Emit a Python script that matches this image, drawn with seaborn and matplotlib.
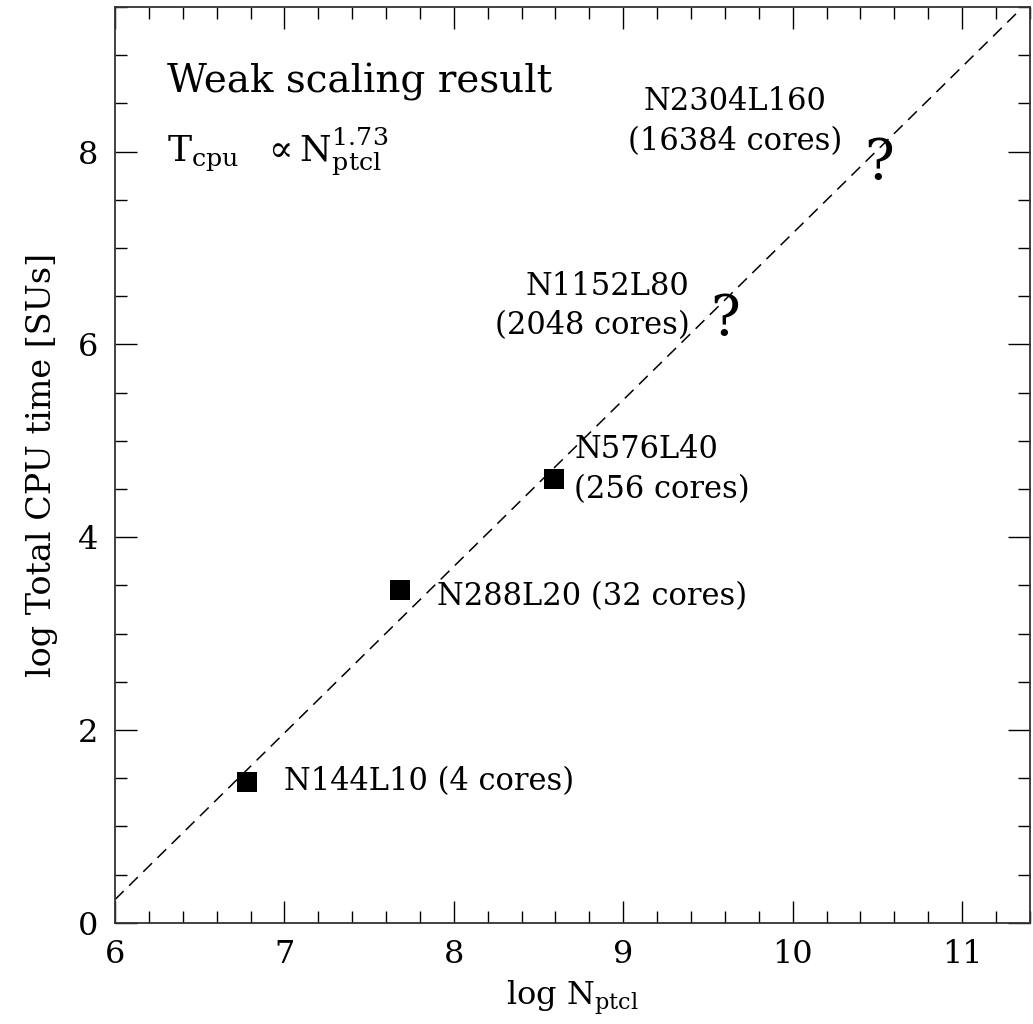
import numpy as np
import pandas as pd
import matplotlib
matplotlib.use("Agg")
import matplotlib.pyplot as plt
import seaborn as sns
from matplotlib.ticker import MultipleLocator

# measured runs
runs = ["N144L10 (4 cores)", "N288L20 (32 cores)", "N576L40\n(256 cores)"]
log_nptcl = [6.78, 7.68, 8.59]
log_cpu = [1.46, 3.45, 4.60]

# fitted power law, T ~ N^1.73 (read at the ends of the dashed line)
fit_x = [6.0, 11.33]
fit_y = [0.24, 9.45]

# projected runs (question marks)
future_runs = ["N1152L80\n(2048 cores)", "N2304L160\n(16384 cores)"]
future_x = [9.60, 10.51]
future_y = [6.26, 7.87]

sns.set_style("ticks")
plt.rcParams["font.family"] = ["DejaVu Serif"]
plt.rcParams["mathtext.fontset"] = "dejavuserif"
plt.rcParams["axes.linewidth"] = 1.3
plt.rcParams["text.color"] = "black"
plt.rcParams["axes.labelcolor"] = "black"
plt.rcParams["axes.edgecolor"] = "#333333"
plt.rcParams["xtick.color"] = "black"
plt.rcParams["ytick.color"] = "black"

fig = plt.figure(figsize=(10.33, 10.24), dpi=100)
ax = fig.add_axes([0.1113, 0.0989, 0.8857, 0.8943])

df = pd.DataFrame({"x": log_nptcl, "y": log_cpu, "run": runs})
fit = pd.DataFrame({"x": fit_x, "y": fit_y})

sns.lineplot(data=fit, x="x", y="y", ax=ax, color="black", linewidth=1.1,
             linestyle=(0, (8, 5)))
sns.scatterplot(data=df, x="x", y="y", ax=ax, marker="s", s=190,
                color="black", linewidth=0, zorder=3)

fs = 22
ax.text(log_nptcl[0] + 0.22, log_cpu[0], runs[0], fontsize=fs, va="center")
ax.text(log_nptcl[1] + 0.22, log_cpu[1] - 0.07, runs[1], fontsize=fs, va="center")
ax.text(log_nptcl[2] + 0.12, log_cpu[2] + 0.1, runs[2], fontsize=fs, va="center",
        linespacing=1.35)

for fx, fy in zip(future_x, future_y):
    ax.text(fx, fy, "?", fontsize=40, ha="center", va="center")

ax.text(9.39, 6.40, future_runs[0], fontsize=fs, ha="right", va="center",
        multialignment="right", linespacing=1.35)
ax.text(9.66, 8.31, future_runs[1], fontsize=fs, ha="center", va="center",
        linespacing=1.35)

ax.text(6.31, 8.72, "Weak scaling result", fontsize=28, va="center")
ax.text(6.31, 8.0, r"$\mathrm{T_{cpu}}\ \ \propto\mathrm{N_{ptcl}^{1.73}}$",
        fontsize=26, va="center")

ax.set_xlim(6, 11.4)
ax.set_ylim(0, 9.5)
ax.xaxis.set_major_locator(MultipleLocator(1))
ax.xaxis.set_minor_locator(MultipleLocator(0.2))
ax.yaxis.set_major_locator(MultipleLocator(2))
ax.yaxis.set_minor_locator(MultipleLocator(0.5))
ax.tick_params(which="both", direction="in", top=True, right=True,
               labelsize=23, width=1.0, pad=12)
ax.tick_params(which="major", length=16)
ax.tick_params(which="minor", length=8.5)

ax.set_xlabel(r"log N$_\mathrm{ptcl}$", fontsize=23, labelpad=6)
ax.set_ylabel("log Total CPU time [SUs]", fontsize=24, labelpad=14)

fig.savefig("out.png", dpi=100)
